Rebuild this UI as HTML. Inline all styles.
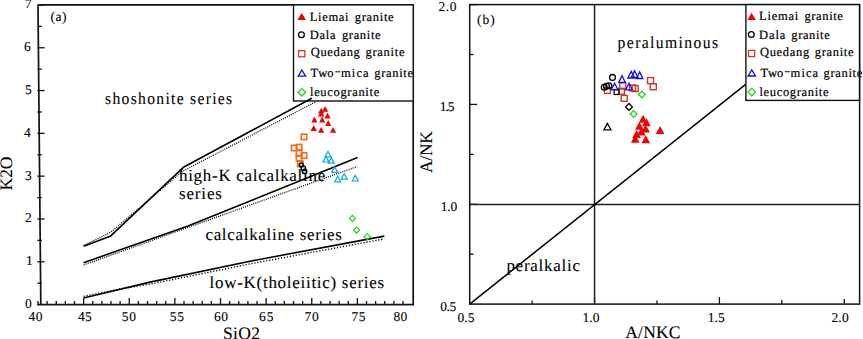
<!DOCTYPE html>
<html><head><meta charset="utf-8"><title>Figure</title>
<style>html,body{margin:0;padding:0;background:#fff;width:863px;height:339px;overflow:hidden}</style>
</head><body>
<div style="position:relative;width:863px;height:339px">
<svg width="863" height="339" viewBox="0 0 863 339" style="position:absolute;left:0;top:0;font-family:'Liberation Serif', serif;font-kerning:none;text-rendering:geometricPrecision">
<rect width="863" height="339" fill="#fff"/>
<g><line x1="38.00" y1="304.60" x2="38.00" y2="301.00" stroke="#111" stroke-width="1.3" /><line x1="47.12" y1="304.60" x2="47.12" y2="301.00" stroke="#111" stroke-width="1.3" /><line x1="56.25" y1="304.60" x2="56.25" y2="301.00" stroke="#111" stroke-width="1.3" /><line x1="65.38" y1="304.60" x2="65.38" y2="301.00" stroke="#111" stroke-width="1.3" /><line x1="74.50" y1="304.60" x2="74.50" y2="301.00" stroke="#111" stroke-width="1.3" /><line x1="83.62" y1="304.60" x2="83.62" y2="298.10" stroke="#111" stroke-width="1.3" /><line x1="92.75" y1="304.60" x2="92.75" y2="301.00" stroke="#111" stroke-width="1.3" /><line x1="101.88" y1="304.60" x2="101.88" y2="301.00" stroke="#111" stroke-width="1.3" /><line x1="111.00" y1="304.60" x2="111.00" y2="301.00" stroke="#111" stroke-width="1.3" /><line x1="120.12" y1="304.60" x2="120.12" y2="301.00" stroke="#111" stroke-width="1.3" /><line x1="129.25" y1="304.60" x2="129.25" y2="298.10" stroke="#111" stroke-width="1.3" /><line x1="138.38" y1="304.60" x2="138.38" y2="301.00" stroke="#111" stroke-width="1.3" /><line x1="147.50" y1="304.60" x2="147.50" y2="301.00" stroke="#111" stroke-width="1.3" /><line x1="156.62" y1="304.60" x2="156.62" y2="301.00" stroke="#111" stroke-width="1.3" /><line x1="165.75" y1="304.60" x2="165.75" y2="301.00" stroke="#111" stroke-width="1.3" /><line x1="174.88" y1="304.60" x2="174.88" y2="298.10" stroke="#111" stroke-width="1.3" /><line x1="184.00" y1="304.60" x2="184.00" y2="301.00" stroke="#111" stroke-width="1.3" /><line x1="193.12" y1="304.60" x2="193.12" y2="301.00" stroke="#111" stroke-width="1.3" /><line x1="202.25" y1="304.60" x2="202.25" y2="301.00" stroke="#111" stroke-width="1.3" /><line x1="211.38" y1="304.60" x2="211.38" y2="301.00" stroke="#111" stroke-width="1.3" /><line x1="220.50" y1="304.60" x2="220.50" y2="298.10" stroke="#111" stroke-width="1.3" /><line x1="229.62" y1="304.60" x2="229.62" y2="301.00" stroke="#111" stroke-width="1.3" /><line x1="238.75" y1="304.60" x2="238.75" y2="301.00" stroke="#111" stroke-width="1.3" /><line x1="247.88" y1="304.60" x2="247.88" y2="301.00" stroke="#111" stroke-width="1.3" /><line x1="257.00" y1="304.60" x2="257.00" y2="301.00" stroke="#111" stroke-width="1.3" /><line x1="266.12" y1="304.60" x2="266.12" y2="298.10" stroke="#111" stroke-width="1.3" /><line x1="275.25" y1="304.60" x2="275.25" y2="301.00" stroke="#111" stroke-width="1.3" /><line x1="284.38" y1="304.60" x2="284.38" y2="301.00" stroke="#111" stroke-width="1.3" /><line x1="293.50" y1="304.60" x2="293.50" y2="301.00" stroke="#111" stroke-width="1.3" /><line x1="302.62" y1="304.60" x2="302.62" y2="301.00" stroke="#111" stroke-width="1.3" /><line x1="311.75" y1="304.60" x2="311.75" y2="298.10" stroke="#111" stroke-width="1.3" /><line x1="320.88" y1="304.60" x2="320.88" y2="301.00" stroke="#111" stroke-width="1.3" /><line x1="330.00" y1="304.60" x2="330.00" y2="301.00" stroke="#111" stroke-width="1.3" /><line x1="339.12" y1="304.60" x2="339.12" y2="301.00" stroke="#111" stroke-width="1.3" /><line x1="348.25" y1="304.60" x2="348.25" y2="301.00" stroke="#111" stroke-width="1.3" /><line x1="357.38" y1="304.60" x2="357.38" y2="298.10" stroke="#111" stroke-width="1.3" /><line x1="366.50" y1="304.60" x2="366.50" y2="301.00" stroke="#111" stroke-width="1.3" /><line x1="375.62" y1="304.60" x2="375.62" y2="301.00" stroke="#111" stroke-width="1.3" /><line x1="384.75" y1="304.60" x2="384.75" y2="301.00" stroke="#111" stroke-width="1.3" /><line x1="393.88" y1="304.60" x2="393.88" y2="301.00" stroke="#111" stroke-width="1.3" /><line x1="403.00" y1="304.60" x2="403.00" y2="301.00" stroke="#111" stroke-width="1.3" /><line x1="37.40" y1="283.20" x2="41.80" y2="283.20" stroke="#111" stroke-width="1.3" /><line x1="37.40" y1="261.79" x2="44.60" y2="261.79" stroke="#111" stroke-width="1.3" /><line x1="37.40" y1="240.39" x2="41.80" y2="240.39" stroke="#111" stroke-width="1.3" /><line x1="37.40" y1="218.98" x2="44.60" y2="218.98" stroke="#111" stroke-width="1.3" /><line x1="37.40" y1="197.58" x2="41.80" y2="197.58" stroke="#111" stroke-width="1.3" /><line x1="37.40" y1="176.17" x2="44.60" y2="176.17" stroke="#111" stroke-width="1.3" /><line x1="37.40" y1="154.77" x2="41.80" y2="154.77" stroke="#111" stroke-width="1.3" /><line x1="37.40" y1="133.36" x2="44.60" y2="133.36" stroke="#111" stroke-width="1.3" /><line x1="37.40" y1="111.96" x2="41.80" y2="111.96" stroke="#111" stroke-width="1.3" /><line x1="37.40" y1="90.55" x2="44.60" y2="90.55" stroke="#111" stroke-width="1.3" /><line x1="37.40" y1="69.15" x2="41.80" y2="69.15" stroke="#111" stroke-width="1.3" /><line x1="37.40" y1="47.74" x2="44.60" y2="47.74" stroke="#111" stroke-width="1.3" /><line x1="37.40" y1="26.34" x2="41.80" y2="26.34" stroke="#111" stroke-width="1.3" /><line x1="37.40" y1="4.93" x2="44.60" y2="4.93" stroke="#111" stroke-width="1.3" /><polyline points="83.60,245.40 104.70,235.30 112.00,231.20 162.00,188.60 182.70,171.20 315.00,102.20" fill="none" stroke="#000" stroke-width="1.3" stroke-linejoin="round" stroke-dasharray="1 1.2"/><polyline points="83.60,265.00 357.20,166.50" fill="none" stroke="#000" stroke-width="1.3" stroke-linejoin="round" stroke-dasharray="1 1.2"/><polyline points="83.60,296.30 120.00,289.00 150.00,284.20 250.00,263.90 384.30,238.90" fill="none" stroke="#000" stroke-width="1.35" stroke-linejoin="round" stroke-dasharray="1.2 1.8"/><polyline points="83.60,262.70 188.00,225.90 357.60,157.60" fill="none" stroke="#000" stroke-width="1.6" stroke-linejoin="round" /><polyline points="83.60,298.00 150.00,282.10 250.00,261.20 384.30,236.10" fill="none" stroke="#000" stroke-width="1.6" stroke-linejoin="round" /><line x1="532.12" y1="304.10" x2="532.12" y2="300.50" stroke="#111" stroke-width="1.3" /><line x1="469.70" y1="254.18" x2="473.50" y2="254.18" stroke="#111" stroke-width="1.3" /><line x1="594.55" y1="304.10" x2="594.55" y2="297.30" stroke="#111" stroke-width="1.3" /><line x1="469.70" y1="204.27" x2="477.20" y2="204.27" stroke="#111" stroke-width="1.3" /><line x1="656.97" y1="304.10" x2="656.97" y2="300.50" stroke="#111" stroke-width="1.3" /><line x1="469.70" y1="154.35" x2="473.50" y2="154.35" stroke="#111" stroke-width="1.3" /><line x1="719.40" y1="304.10" x2="719.40" y2="297.10" stroke="#111" stroke-width="1.3" /><line x1="469.70" y1="104.43" x2="477.20" y2="104.43" stroke="#111" stroke-width="1.3" /><line x1="781.83" y1="304.10" x2="781.83" y2="299.90" stroke="#111" stroke-width="1.3" /><line x1="469.70" y1="54.51" x2="473.50" y2="54.51" stroke="#111" stroke-width="1.3" /><line x1="844.25" y1="304.10" x2="844.25" y2="299.10" stroke="#111" stroke-width="1.3" /><line x1="469.70" y1="4.60" x2="476.70" y2="4.60" stroke="#111" stroke-width="1.3" /><line x1="594.55" y1="4.60" x2="594.55" y2="304.10" stroke="#222" stroke-width="1.5" /><line x1="469.70" y1="204.50" x2="859.60" y2="204.50" stroke="#222" stroke-width="1.5" /><line x1="469.70" y1="304.10" x2="746.30" y2="83.79" stroke="#000" stroke-width="1.5" /><rect x="297.70" y="161.20" width="5.4" height="5.4" fill="none" stroke="#f07020" stroke-width="1.7"/><rect x="301.30" y="134.20" width="5.4" height="5.4" fill="none" stroke="#f07020" stroke-width="1.7"/><rect x="291.50" y="145.30" width="5.4" height="5.4" fill="none" stroke="#f07020" stroke-width="1.7"/><rect x="296.40" y="144.40" width="5.4" height="5.4" fill="none" stroke="#f07020" stroke-width="1.7"/><rect x="296.40" y="150.60" width="5.4" height="5.4" fill="none" stroke="#f07020" stroke-width="1.7"/><rect x="301.30" y="152.80" width="5.4" height="5.4" fill="none" stroke="#f07020" stroke-width="1.7"/><rect x="296.40" y="155.50" width="5.4" height="5.4" fill="none" stroke="#f07020" stroke-width="1.7"/><circle cx="301.30" cy="164.90" r="1.9" fill="none" stroke="#000" stroke-width="1.5"/><circle cx="303.30" cy="168.20" r="2.2" fill="none" stroke="#000" stroke-width="1.5"/><circle cx="304.60" cy="171.40" r="2.2" fill="none" stroke="#000" stroke-width="1.5"/><polygon points="325.10,106.00 328.20,111.80 322.00,111.80" fill="#f00000"/><polygon points="321.20,107.80 324.30,113.60 318.10,113.60" fill="#f00000"/><polygon points="321.20,110.60 324.30,116.40 318.10,116.40" fill="#f00000"/><polygon points="327.50,112.60 330.60,118.40 324.40,118.40" fill="#f00000"/><polygon points="314.40,116.60 317.50,122.40 311.30,122.40" fill="#f00000"/><polygon points="322.20,116.60 325.30,122.40 319.10,122.40" fill="#f00000"/><polygon points="328.20,120.10 331.30,125.90 325.10,125.90" fill="#f00000"/><polygon points="313.70,125.10 316.80,130.90 310.60,130.90" fill="#f00000"/><polygon points="321.10,126.90 324.20,132.70 318.00,132.70" fill="#f00000"/><polygon points="333.10,126.90 336.20,132.70 330.00,132.70" fill="#f00000"/><polygon points="328.00,151.20 331.00,156.80 325.00,156.80" fill="none" stroke="#10a8e8" stroke-width="1.2" stroke-linejoin="miter"/><polygon points="325.90,156.40 328.90,162.00 322.90,162.00" fill="none" stroke="#10a8e8" stroke-width="1.2" stroke-linejoin="miter"/><polygon points="331.20,157.60 334.20,163.20 328.20,163.20" fill="none" stroke="#10a8e8" stroke-width="1.2" stroke-linejoin="miter"/><polygon points="334.70,166.80 337.70,172.40 331.70,172.40" fill="none" stroke="#10a8e8" stroke-width="1.2" stroke-linejoin="miter"/><polygon points="337.70,176.20 340.70,181.80 334.70,181.80" fill="none" stroke="#10a8e8" stroke-width="1.2" stroke-linejoin="miter"/><polygon points="344.20,173.60 347.20,179.20 341.20,179.20" fill="none" stroke="#10a8e8" stroke-width="1.2" stroke-linejoin="miter"/><polygon points="355.20,175.40 358.20,181.00 352.20,181.00" fill="none" stroke="#10a8e8" stroke-width="1.2" stroke-linejoin="miter"/><polygon points="352.40,215.40 355.40,218.40 352.40,221.40 349.40,218.40" fill="none" stroke="#20d020" stroke-width="1.2"/><polygon points="356.50,227.20 359.50,230.20 356.50,233.20 353.50,230.20" fill="none" stroke="#20d020" stroke-width="1.2"/><polygon points="367.20,233.70 370.20,236.70 367.20,239.70 364.20,236.70" fill="none" stroke="#20d020" stroke-width="1.2"/><rect x="604.40" y="87.40" width="6.0" height="6.0" fill="none" stroke="#d03a28" stroke-width="1.4"/><rect x="618.50" y="88.30" width="6.0" height="6.0" fill="none" stroke="#d03a28" stroke-width="1.4"/><rect x="619.80" y="83.00" width="6.0" height="6.0" fill="none" stroke="#d03a28" stroke-width="1.4"/><rect x="621.20" y="95.30" width="6.0" height="6.0" fill="none" stroke="#d03a28" stroke-width="1.4"/><rect x="629.50" y="84.90" width="6.0" height="6.0" fill="none" stroke="#d03a28" stroke-width="1.4"/><rect x="632.20" y="85.60" width="6.0" height="6.0" fill="none" stroke="#d03a28" stroke-width="1.4"/><rect x="647.50" y="77.60" width="6.0" height="6.0" fill="none" stroke="#d03a28" stroke-width="1.4"/><rect x="650.30" y="83.70" width="6.0" height="6.0" fill="none" stroke="#d03a28" stroke-width="1.4"/><circle cx="612.50" cy="77.40" r="2.9" fill="none" stroke="#000" stroke-width="1.3"/><circle cx="604.20" cy="87.30" r="2.9" fill="none" stroke="#000" stroke-width="1.3"/><circle cx="606.50" cy="86.30" r="2.9" fill="none" stroke="#000" stroke-width="1.3"/><circle cx="608.90" cy="85.80" r="2.9" fill="none" stroke="#000" stroke-width="1.3"/><rect x="614.10" y="89.50" width="5.0" height="5.0" fill="none" stroke="#000" stroke-width="1.2"/><polygon points="629.00,103.50 632.40,106.90 629.00,110.30 625.60,106.90" fill="none" stroke="#000" stroke-width="1.3"/><polygon points="607.40,123.40 610.90,129.80 603.90,129.80" fill="none" stroke="#000" stroke-width="1.3" stroke-linejoin="miter"/><polygon points="622.00,75.80 625.30,82.40 618.70,82.40" fill="none" stroke="#1010e0" stroke-width="1.3" stroke-linejoin="miter"/><polygon points="614.60,83.20 617.90,89.80 611.30,89.80" fill="none" stroke="#1010e0" stroke-width="1.3" stroke-linejoin="miter"/><polygon points="629.00,83.20 632.30,89.80 625.70,89.80" fill="none" stroke="#1010e0" stroke-width="1.3" stroke-linejoin="miter"/><polygon points="631.20,71.40 634.50,78.00 627.90,78.00" fill="none" stroke="#1010e0" stroke-width="1.3" stroke-linejoin="miter"/><polygon points="634.60,70.80 637.90,77.40 631.30,77.40" fill="none" stroke="#1010e0" stroke-width="1.3" stroke-linejoin="miter"/><polygon points="639.60,71.90 642.90,78.50 636.30,78.50" fill="none" stroke="#1010e0" stroke-width="1.3" stroke-linejoin="miter"/><polygon points="641.90,91.10 645.30,94.50 641.90,97.90 638.50,94.50" fill="none" stroke="#20d020" stroke-width="1.3"/><polygon points="633.60,110.60 637.00,114.00 633.60,117.40 630.20,114.00" fill="none" stroke="#20d020" stroke-width="1.3"/><polygon points="643.10,114.70 647.40,122.70 638.80,122.70" fill="#f00000"/><polygon points="646.40,118.20 650.70,126.20 642.10,126.20" fill="#f00000"/><polygon points="639.40,121.80 643.70,129.80 635.10,129.80" fill="#f00000"/><polygon points="645.60,124.60 649.90,132.60 641.30,132.60" fill="#f00000"/><polygon points="641.40,127.60 645.70,135.60 637.10,135.60" fill="#f00000"/><polygon points="636.60,130.00 640.90,138.00 632.30,138.00" fill="#f00000"/><polygon points="635.20,134.80 639.50,142.80 630.90,142.80" fill="#f00000"/><polygon points="645.80,135.20 650.10,143.20 641.50,143.20" fill="#f00000"/><polygon points="660.10,126.00 664.40,134.00 655.80,134.00" fill="#f00000"/></g>
<g><line x1="38" y1="4.9" x2="40.8" y2="304.6" stroke="#111" stroke-width="1.7"/><polyline points="37.2,304.6 413.2,304.6 413.2,4.9 38,4.9" fill="none" stroke="#111" stroke-width="1.7"/><rect x="469.7" y="4.6" width="389.9" height="299.5" fill="none" stroke="#111" stroke-width="1.5"/></g>
<g><rect x="293.5" y="4.9" width="119.7" height="96.1" fill="#fff" stroke="#111" stroke-width="1.4"/><rect x="745.9" y="4.6" width="113.6" height="95.8" fill="#fff" stroke="#111" stroke-width="1.4"/><polygon points="301.70,12.90 306.00,20.10 297.40,20.10" fill="#f00000"/><circle cx="301.40" cy="34.70" r="2.9" fill="none" stroke="#000" stroke-width="1.3"/><rect x="298.60" y="50.60" width="6.2" height="6.2" fill="none" stroke="#d03a28" stroke-width="1.3"/><polygon points="301.90,70.00 305.60,76.20 298.20,76.20" fill="none" stroke="#1010e0" stroke-width="1.3"/><polygon points="301.90,88.60 305.70,92.30 301.90,96.00 298.10,92.30" fill="none" stroke="#20d020" stroke-width="1.3"/><polygon points="751.60,12.70 755.90,19.90 747.30,19.90" fill="#f00000"/><circle cx="751.30" cy="34.50" r="2.9" fill="none" stroke="#000" stroke-width="1.3"/><rect x="748.50" y="50.40" width="6.2" height="6.2" fill="none" stroke="#d03a28" stroke-width="1.3"/><polygon points="751.80,69.80 755.50,76.00 748.10,76.00" fill="none" stroke="#1010e0" stroke-width="1.3"/><polygon points="751.80,88.40 755.60,92.10 751.80,95.80 748.00,92.10" fill="none" stroke="#20d020" stroke-width="1.3"/><line x1="335.2" y1="71.8" x2="340.2" y2="71.8" stroke="#222" stroke-width="1.1"/><line x1="784.8" y1="71.7" x2="789.8" y2="71.7" stroke="#222" stroke-width="1.1"/><polyline points="83.6,246.2 110.2,236.3 183.4,167.3 311.8,98.2" fill="none" stroke="#000" stroke-width="1.6" stroke-linejoin="round"/></g>
<g fill="#000"><text x="50.60" y="20.60" style="font-size:13.5px;letter-spacing:0.400px;stroke:#000;stroke-width:0.1px" fill="#000">(a)</text>
<text transform="translate(105.08,104.00) scale(0.92,1)" style="font-size:17px;letter-spacing:1.401px;stroke:#000;stroke-width:0.1px" fill="#000">shoshonite series</text>
<text x="179.00" y="181.30" style="font-size:17px;letter-spacing:0.700px;stroke:#000;stroke-width:0.1px" fill="#000">high-K calcalkaline</text>
<text x="179.00" y="199.40" style="font-size:17px;letter-spacing:0.840px;stroke:#000;stroke-width:0.1px" fill="#000">series</text>
<text x="205.40" y="239.80" style="font-size:17px;letter-spacing:0.689px;stroke:#000;stroke-width:0.1px" fill="#000">calcalkaline series</text>
<text x="209.60" y="288.20" style="font-size:17px;letter-spacing:0.713px;stroke:#000;stroke-width:0.1px" fill="#000">low-K(tholeiitic) series</text>
<text x="223.00" y="338.60" style="font-size:17.5px;letter-spacing:0.367px;stroke:#000;stroke-width:0.1px" fill="#000">SiO2</text>
<text transform="translate(12.00,190.40) rotate(-90)" x="0" y="0" style="font-size:17.5px;letter-spacing:-0.100px;stroke:#000;stroke-width:0.1px">K2O</text>
<text x="28.40" y="320.50" style="font-size:13.5px;letter-spacing:0.600px;stroke:#000;stroke-width:0.1px" fill="#000">40</text>
<text x="78.10" y="320.50" style="font-size:13.5px;letter-spacing:0.100px;stroke:#000;stroke-width:0.1px" fill="#000">45</text>
<text x="121.80" y="320.50" style="font-size:13.5px;letter-spacing:0.800px;stroke:#000;stroke-width:0.1px" fill="#000">50</text>
<text x="169.80" y="320.50" style="font-size:13.5px;letter-spacing:0.600px;stroke:#000;stroke-width:0.1px" fill="#000">55</text>
<text x="214.00" y="320.50" style="font-size:13.5px;letter-spacing:0.500px;stroke:#000;stroke-width:0.1px" fill="#000">60</text>
<text x="259.10" y="320.50" style="font-size:13.5px;letter-spacing:0.900px;stroke:#000;stroke-width:0.1px" fill="#000">65</text>
<text x="304.40" y="320.50" style="font-size:13.5px;letter-spacing:0.800px;stroke:#000;stroke-width:0.1px" fill="#000">70</text>
<text x="351.60" y="320.50" style="font-size:13.5px;letter-spacing:0.400px;stroke:#000;stroke-width:0.1px" fill="#000">75</text>
<text x="393.60" y="320.50" style="font-size:13.5px;letter-spacing:0.200px;stroke:#000;stroke-width:0.1px" fill="#000">80</text>
<text x="25.00" y="308.10" style="font-size:13.5px;letter-spacing:0.000px;stroke:#000;stroke-width:0.1px" fill="#000">0</text>
<text x="26.00" y="265.29" style="font-size:13.5px;letter-spacing:0.000px;stroke:#000;stroke-width:0.1px" fill="#000">1</text>
<text x="25.00" y="222.48" style="font-size:13.5px;letter-spacing:0.000px;stroke:#000;stroke-width:0.1px" fill="#000">2</text>
<text x="25.00" y="179.67" style="font-size:13.5px;letter-spacing:0.000px;stroke:#000;stroke-width:0.1px" fill="#000">3</text>
<text x="24.00" y="136.86" style="font-size:13.5px;letter-spacing:0.000px;stroke:#000;stroke-width:0.1px" fill="#000">4</text>
<text x="25.00" y="94.05" style="font-size:13.5px;letter-spacing:0.000px;stroke:#000;stroke-width:0.1px" fill="#000">5</text>
<text x="24.00" y="51.24" style="font-size:13.5px;letter-spacing:0.000px;stroke:#000;stroke-width:0.1px" fill="#000">6</text>
<text x="25.00" y="8.43" style="font-size:13.5px;letter-spacing:0.000px;stroke:#000;stroke-width:0.1px" fill="#000">7</text>
<text x="309.80" y="20.60" style="font-size:12.5px;letter-spacing:0.660px;stroke:#000;stroke-width:0.2px" fill="#000">Liemai</text>
<text x="354.80" y="20.60" style="font-size:12.5px;letter-spacing:0.683px;stroke:#000;stroke-width:0.2px" fill="#000">granite</text>
<text x="309.80" y="39.30" style="font-size:12.5px;letter-spacing:0.733px;stroke:#000;stroke-width:0.2px" fill="#000">Dala</text>
<text x="341.90" y="39.30" style="font-size:12.5px;letter-spacing:0.667px;stroke:#000;stroke-width:0.2px" fill="#000">granite</text>
<text x="310.80" y="55.80" style="font-size:12.5px;letter-spacing:0.650px;stroke:#000;stroke-width:0.2px" fill="#000">Quedang</text>
<text x="365.50" y="55.80" style="font-size:12.5px;letter-spacing:0.717px;stroke:#000;stroke-width:0.2px" fill="#000">granite</text>
<text x="310.60" y="76.80" style="font-size:12.5px;letter-spacing:0.000px;stroke:#000;stroke-width:0.2px" fill="#000">Two</text>
<text x="341.00" y="76.80" style="font-size:12.5px;letter-spacing:1.100px;stroke:#000;stroke-width:0.2px" fill="#000">mica</text>
<text x="374.20" y="76.80" style="font-size:12.5px;letter-spacing:0.700px;stroke:#000;stroke-width:0.2px" fill="#000">granite</text>
<text x="310.00" y="96.00" style="font-size:12.5px;letter-spacing:0.673px;stroke:#000;stroke-width:0.2px" fill="#000">leucogranite</text>
<text x="477.10" y="23.90" style="font-size:13.5px;letter-spacing:0.950px;stroke:#000;stroke-width:0.1px" fill="#000">(b)</text>
<text transform="translate(617.60,48.20) scale(0.92,1)" style="font-size:17px;letter-spacing:1.508px;stroke:#000;stroke-width:0.1px" fill="#000">peraluminous</text>
<text x="506.40" y="270.80" style="font-size:17px;letter-spacing:0.733px;stroke:#000;stroke-width:0.1px" fill="#000">peralkalic</text>
<text x="625.30" y="338.20" style="font-size:17.5px;letter-spacing:0.175px;stroke:#000;stroke-width:0.1px" fill="#000">A/NKC</text>
<text transform="translate(432.00,173.00) rotate(-90)" x="0" y="0" style="font-size:17.5px;letter-spacing:-0.267px;stroke:#000;stroke-width:0.1px">A/NK</text>
<text x="457.60" y="321.50" style="font-size:13.5px;letter-spacing:0.000px;stroke:#000;stroke-width:0.1px" fill="#000">0.5</text>
<text x="582.40" y="321.50" style="font-size:13.5px;letter-spacing:0.150px;stroke:#000;stroke-width:0.1px" fill="#000">1.0</text>
<text x="707.80" y="321.50" style="font-size:13.5px;letter-spacing:0.000px;stroke:#000;stroke-width:0.1px" fill="#000">1.5</text>
<text x="831.40" y="321.50" style="font-size:13.5px;letter-spacing:0.200px;stroke:#000;stroke-width:0.1px" fill="#000">2.0</text>
<text x="438.40" y="10.90" style="font-size:13.5px;letter-spacing:0.650px;stroke:#000;stroke-width:0.1px" fill="#000">2.0</text>
<text x="439.80" y="110.50" style="font-size:13.5px;letter-spacing:-1.100px;stroke:#000;stroke-width:0.1px" fill="#000">1.5</text>
<text x="440.80" y="211.00" style="font-size:13.5px;letter-spacing:-0.200px;stroke:#000;stroke-width:0.1px" fill="#000">1.0</text>
<text x="440.20" y="310.50" style="font-size:13.5px;letter-spacing:-0.350px;stroke:#000;stroke-width:0.1px" fill="#000">0.5</text>
<text x="759.00" y="20.30" style="font-size:12.5px;letter-spacing:0.760px;stroke:#000;stroke-width:0.2px" fill="#000">Liemai</text>
<text x="804.40" y="20.30" style="font-size:12.5px;letter-spacing:0.633px;stroke:#000;stroke-width:0.2px" fill="#000">granite</text>
<text x="759.00" y="39.00" style="font-size:12.5px;letter-spacing:0.933px;stroke:#000;stroke-width:0.2px" fill="#000">Dala</text>
<text x="791.30" y="39.00" style="font-size:12.5px;letter-spacing:0.617px;stroke:#000;stroke-width:0.2px" fill="#000">granite</text>
<text x="760.00" y="55.80" style="font-size:12.5px;letter-spacing:0.667px;stroke:#000;stroke-width:0.2px" fill="#000">Quedang</text>
<text x="814.70" y="55.80" style="font-size:12.5px;letter-spacing:0.700px;stroke:#000;stroke-width:0.2px" fill="#000">granite</text>
<text x="760.50" y="76.50" style="font-size:12.5px;letter-spacing:-0.100px;stroke:#000;stroke-width:0.2px" fill="#000">Two</text>
<text x="790.60" y="76.50" style="font-size:12.5px;letter-spacing:1.067px;stroke:#000;stroke-width:0.2px" fill="#000">mica</text>
<text x="823.60" y="76.50" style="font-size:12.5px;letter-spacing:0.650px;stroke:#000;stroke-width:0.2px" fill="#000">granite</text>
<text x="759.40" y="96.00" style="font-size:12.5px;letter-spacing:0.673px;stroke:#000;stroke-width:0.2px" fill="#000">leucogranite</text></g>
</svg>
</div>
</body></html>
